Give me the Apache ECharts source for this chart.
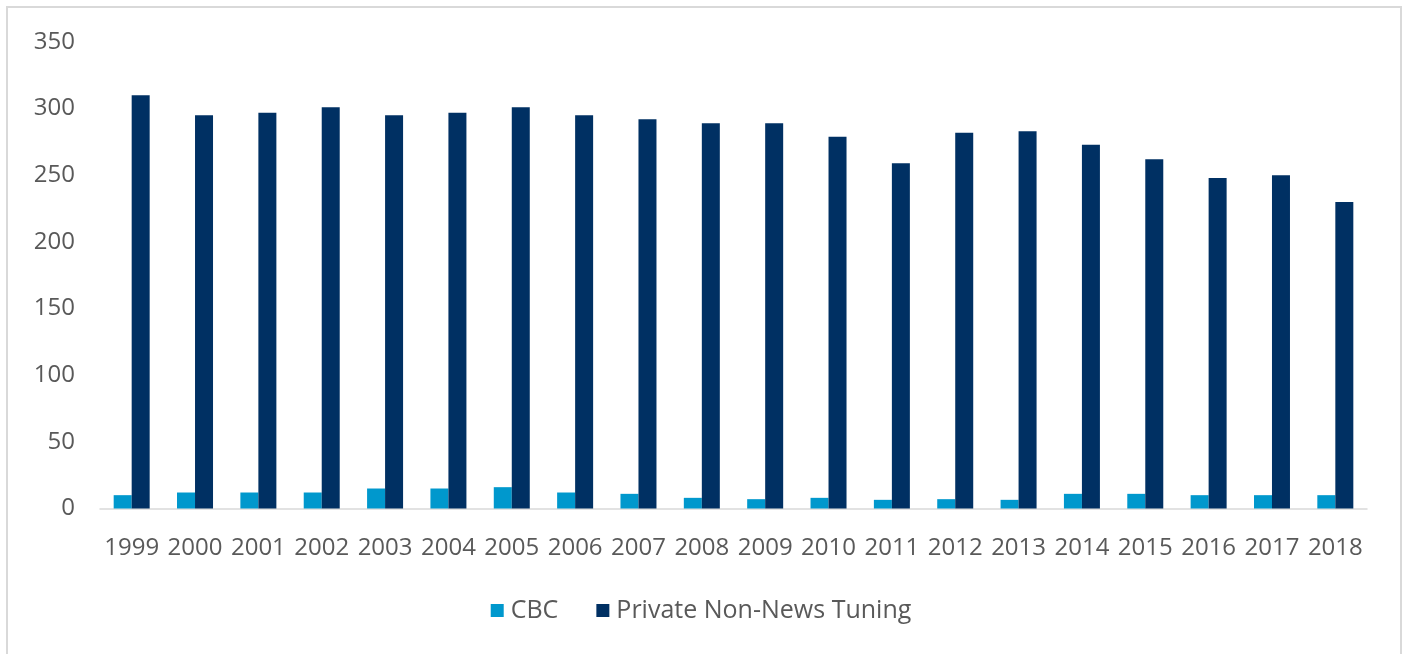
<!DOCTYPE html>
<html>
<head>
<meta charset="utf-8">
<script src="https://cdn.jsdelivr.net/npm/echarts@6/dist/echarts.min.js"></script>
<style>
html,body{margin:0;padding:0;background:#fff;}
#c{width:1402px;height:654px;}
</style>
</head>
<body>
<div id="c"></div>
<script>
const years = ['1999','2000','2001','2002','2003','2004','2005','2006','2007','2008','2009','2010','2011','2012','2013','2014','2015','2016','2017','2018'];
const cbc = [10,12,12,12,15,15,16,12,11,8,7,8,6.5,7,6.5,11,11,10,10,10];
const privateNonNews = [310,295,297,301,295,297,301,295,292,289,289,279,259,282,283,273,262,248,250,230];
const yTicks = [0,50,100,150,200,250,300,350];

const chart = echarts.init(document.getElementById('c'));
const font = '"Open Sans", "Noto Sans", sans-serif';
chart.setOption({
  animation: false,
  backgroundColor: '#ffffff',
  textStyle: {fontFamily: font},
  graphic: [{
    type: 'rect',
    shape: {x: 7, y: 7, width: 1394, height: 700},
    style: {fill: 'none', stroke: '#d9d9d9', lineWidth: 2},
    silent: true
  }],
  grid: {left: 100, right: 35, top: 42, bottom: 145.5},
  legend: {
    bottom: 26,
    left: 'center',
    itemWidth: 13,
    itemHeight: 13,
    itemGap: 38,
    icon: 'rect',
    textStyle: {fontFamily: font, fontSize: 25, color: '#595959', padding: [0,0,0,2]},
    data: ['CBC', 'Private Non-News Tuning']
  },
  xAxis: {
    type: 'category',
    data: years,
    axisLine: {lineStyle: {color: '#d9d9d9', width: 1.5}},
    axisTick: {show: false},
    axisLabel: {interval: 0, color: '#595959', fontSize: 24, fontFamily: font, margin: 28}
  },
  yAxis: {
    type: 'value',
    min: yTicks[0],
    max: yTicks[yTicks.length - 1],
    interval: 50,
    splitLine: {show: false},
    axisLine: {show: false},
    axisTick: {show: false},
    axisLabel: {color: '#595959', fontSize: 24, fontFamily: font, margin: 25}
  },
  series: [
    {name: 'CBC', type: 'bar', data: cbc, barWidth: 18, barGap: '0%',
     itemStyle: {color: '#0098cd'}},
    {name: 'Private Non-News Tuning', type: 'bar', data: privateNonNews, barWidth: 18,
     itemStyle: {color: '#003063'}}
  ]
});
</script>
</body>
</html>
